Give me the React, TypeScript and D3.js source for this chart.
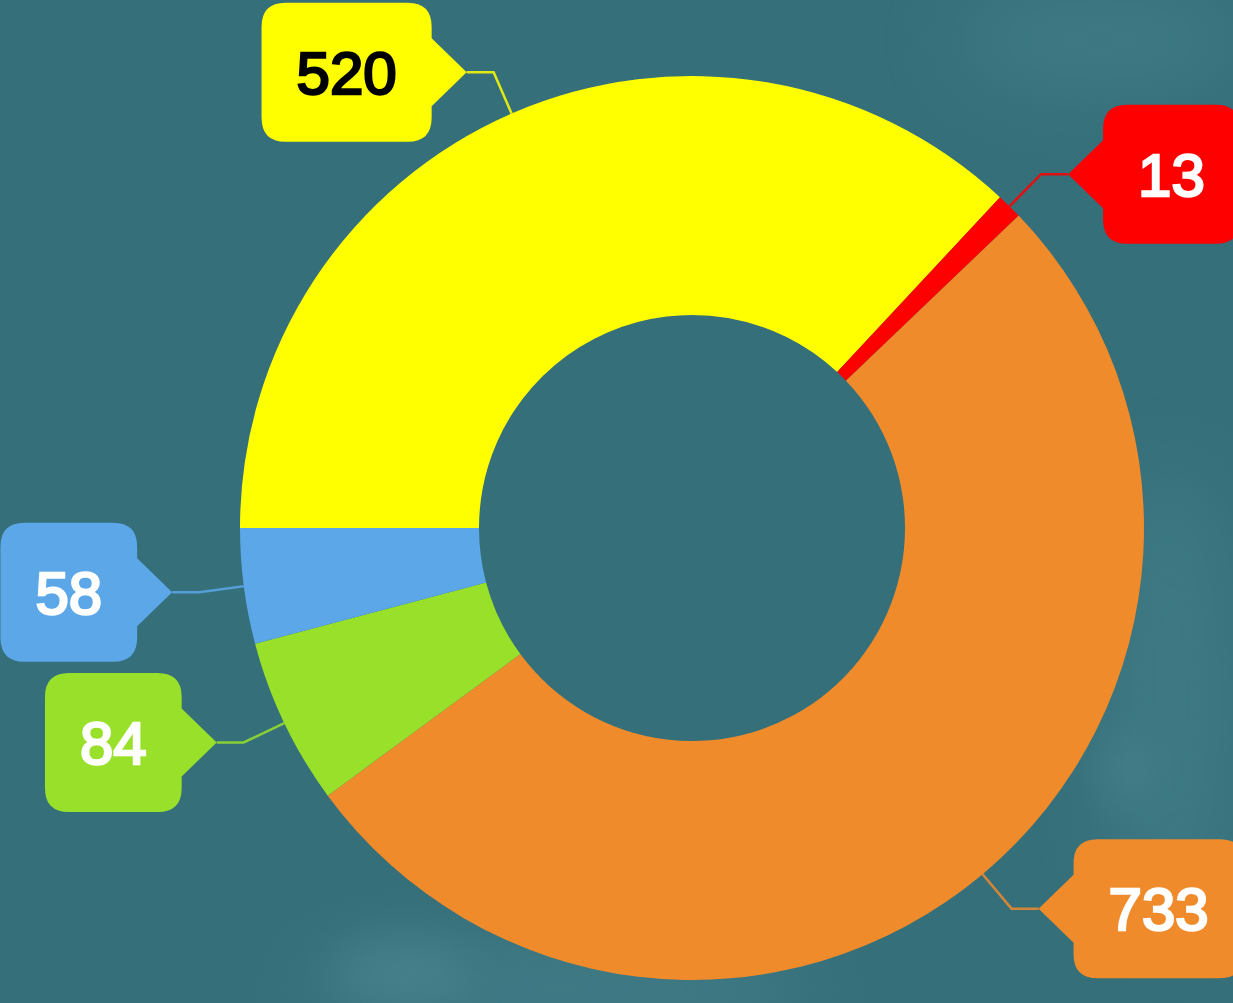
import React from "react";
import * as d3 from "d3";

const values: number[] = [520, 13, 733, 84, 58];
const colors: string[] = ["#ffff00", "#ff0000", "#f08b2b", "#98e02a", "#5ba7e8"];
const labelColors: string[] = ["#000000", "#ffffff", "#ffffff", "#ffffff", "#ffffff"];

const W = 1233;
const H = 1003;
const CX = 692;
const CY = 528;
const R_OUT = 452;
const R_IN = 213;
const LABEL_DIST = 45;
const CROOK = 27;
const POINTER = 35;
const FONT = 60;
const BOX_H = 139;
const CORNER = 24;

function polar(r: number, a: number): [number, number] {
  return [CX + r * Math.sin(a), CY - r * Math.cos(a)];
}

function calloutPath(x0: number, x1: number, y0: number, y1: number, tipX: number, tipY: number, side: number): string {
  const r = CORNER;
  const ph = 34;
  if (side > 0) {
    return [
      `M${x0 + r},${y0}`,
      `L${x1 - r},${y0}`,
      `Q${x1},${y0} ${x1},${y0 + r}`,
      `L${x1},${y1 - r}`,
      `Q${x1},${y1} ${x1 - r},${y1}`,
      `L${x0 + r},${y1}`,
      `Q${x0},${y1} ${x0},${y1 - r}`,
      `L${x0},${tipY + ph}`,
      `L${tipX},${tipY}`,
      `L${x0},${tipY - ph}`,
      `L${x0},${y0 + r}`,
      `Q${x0},${y0} ${x0 + r},${y0}`,
      "Z",
    ].join(" ");
  }
  return [
    `M${x0 + r},${y0}`,
    `L${x1 - r},${y0}`,
    `Q${x1},${y0} ${x1},${y0 + r}`,
    `L${x1},${tipY - ph}`,
    `L${tipX},${tipY}`,
    `L${x1},${tipY + ph}`,
    `L${x1},${y1 - r}`,
    `Q${x1},${y1} ${x1 - r},${y1}`,
    `L${x0 + r},${y1}`,
    `Q${x0},${y1} ${x0},${y1 - r}`,
    `L${x0},${y0 + r}`,
    `Q${x0},${y0} ${x0 + r},${y0}`,
    "Z",
  ].join(" ");
}

export default function App() {
  const pie = d3
    .pie<number>()
    .sort(null)
    .value((d) => d)
    .startAngle(-Math.PI / 2)
    .endAngle((3 * Math.PI) / 2);
  const arcs = pie(values);
  const arcGen = d3.arc<d3.PieArcDatum<number>>().innerRadius(R_IN).outerRadius(R_OUT);

  return (
    <svg
      width={W}
      height={H}
      style={{ position: "absolute", left: 0, top: 0, display: "block" }}
      xmlns="http://www.w3.org/2000/svg"
    >
      <defs>
        <filter id="blur" filterUnits="userSpaceOnUse" x={0} y={0} width={W} height={H}>
          <feGaussianBlur stdDeviation="40" />
        </filter>
        <filter id="blur2" filterUnits="userSpaceOnUse" x={0} y={0} width={W} height={H}>
          <feGaussianBlur stdDeviation="22" />
        </filter>
      </defs>
      <rect x={0} y={0} width={W} height={H} fill="#356f7a" />
      <g filter="url(#blur)" opacity={0.45}>
        <ellipse cx={560} cy={990} rx={260} ry={50} fill="#4f8a95" />
        <ellipse cx={1170} cy={700} rx={70} ry={240} fill="#4a8590" />
        <ellipse cx={1100} cy={40} rx={150} ry={60} fill="#4a8590" />
      </g>
      <g filter="url(#blur2)" opacity={0.3}>
        <ellipse cx={400} cy={970} rx={70} ry={35} fill="#5a949e" />
        <ellipse cx={1125} cy={770} rx={25} ry={35} fill="#5a949e" />
      </g>
      <g transform={`translate(${CX},${CY})`}>
        {arcs.map((a, i) => (
          <path key={"s" + i} d={arcGen(a) || ""} fill={colors[i]} />
        ))}
      </g>
      <g>
        {arcs.map((a, i) => {
          const mid = (a.startAngle + a.endAngle) / 2;
          const edge = polar(R_OUT, mid);
          const crook = polar(R_OUT + LABEL_DIST, mid);
          const side = Math.sin(mid) >= 0 ? 1 : -1;
          const tipX = crook[0] + side * CROOK;
          const tipY = crook[1];
          const txt = String(values[i]);
          const tw = txt.length * FONT * 0.556;
          const bw = tw + 70;
          const x0 = side > 0 ? tipX + POINTER : tipX - POINTER - bw;
          const x1 = x0 + bw;
          const y0 = tipY - BOX_H / 2;
          const y1 = tipY + BOX_H / 2;
          const line = d3.line()([edge, crook, [tipX, tipY]]) || "";
          return (
            <g key={"l" + i}>
              <path d={line} fill="none" stroke={colors[i]} strokeWidth={2.5} opacity={0.85} />
              <path d={calloutPath(x0, x1, y0, y1, tipX, tipY, side)} fill={colors[i]} />
              <text
                x={(x0 + x1) / 2}
                y={tipY}
                dy="0.36em"
                textAnchor="middle"
                fontFamily="'Liberation Sans', Arial, Helvetica, sans-serif"
                fontSize={FONT}
                fontWeight="normal"
                fill={labelColors[i]}
                stroke={labelColors[i]}
                strokeWidth={2.5}
              >
                {txt}
              </text>
            </g>
          );
        })}
      </g>
    </svg>
  );
}
